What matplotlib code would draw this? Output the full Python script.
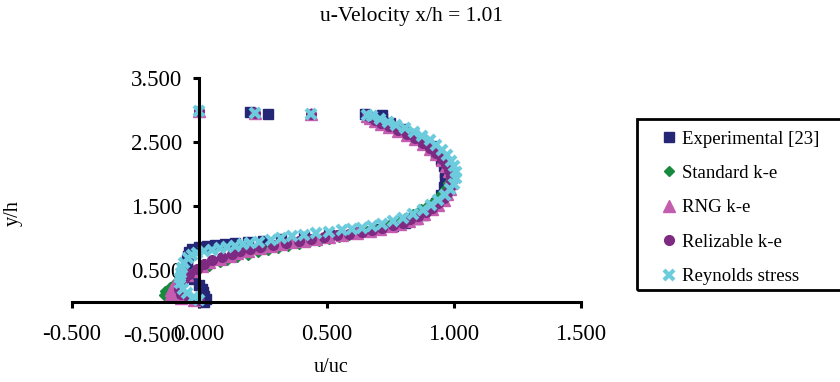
import matplotlib
matplotlib.use('Agg')
import matplotlib.pyplot as plt
from matplotlib.patches import Rectangle

plt.rcParams['font.family'] = ['Liberation Serif', 'DejaVu Serif']

# Experimental [23]
x_exp = [0.02, 0.025, 0.02, 0.015, 0.01, 0.0, -0.02, -0.04, -0.05, -0.05,
         -0.045, -0.04, -0.03, 0.0, 0.03, 0.06, 0.10, 0.14, 0.19, 0.25,
         0.32, 0.41, 0.51, 0.62, 0.70, 0.76, 0.81, 0.85, 0.88, 0.91,
         0.93, 0.95, 0.96, 0.965, 0.965, 0.96, 0.95, 0.93, 0.91, 0.88,
         0.84, 0.80, 0.75, 0.72, 0.72, 0.65, 0.27, 0.20]
y_exp = [0.00, 0.05, 0.10, 0.15, 0.20, 0.27, 0.36, 0.46, 0.56, 0.65,
         0.72, 0.78, 0.83, 0.86, 0.88, 0.89, 0.90, 0.92, 0.93, 0.96,
         0.99, 1.02, 1.05, 1.10, 1.14, 1.18, 1.23, 1.29, 1.36, 1.45,
         1.55, 1.67, 1.80, 1.92, 2.02, 2.12, 2.22, 2.33, 2.43, 2.52,
         2.62, 2.71, 2.80, 2.87, 2.92, 2.94, 2.94, 2.97]

# Standard k-e
x_ske = [-0.02, -0.08, -0.14, -0.135, -0.115, -0.09, -0.06, -0.03, 0.00, 0.04,
         0.08, 0.11, 0.15, 0.19, 0.23, 0.27, 0.31, 0.35, 0.39, 0.43,
         0.47, 0.51, 0.55, 0.59, 0.63, 0.66, 0.69, 0.72, 0.75, 0.78,
         0.81, 0.84, 0.87, 0.90, 0.925, 0.95, 0.965, 0.978, 0.985, 0.985,
         0.978, 0.965, 0.948, 0.925, 0.90, 0.875, 0.845, 0.81, 0.775, 0.74,
         0.71, 0.69, 0.66, 0.44, 0.22, 0.0]
y_ske = [0.02, 0.06, 0.11, 0.17, 0.24, 0.31, 0.38, 0.45, 0.51, 0.57,
         0.62, 0.66, 0.70, 0.74, 0.78, 0.81, 0.84, 0.87, 0.90, 0.93,
         0.96, 0.99, 1.02, 1.05, 1.08, 1.11, 1.14, 1.18, 1.22, 1.27,
         1.32, 1.38, 1.45, 1.52, 1.60, 1.68, 1.77, 1.86, 1.95, 2.04,
         2.13, 2.22, 2.31, 2.39, 2.47, 2.54, 2.61, 2.67, 2.73, 2.78,
         2.83, 2.87, 2.91, 2.94, 2.95, 2.98]

# RNG k-e
x_rng = [-0.02, -0.07, -0.11, -0.11, -0.10, -0.08, -0.05, -0.02, 0.01, 0.04,
         0.08, 0.12, 0.15, 0.19, 0.24, 0.28, 0.32, 0.36, 0.41, 0.46,
         0.51, 0.56, 0.62, 0.67, 0.71, 0.755, 0.79, 0.825, 0.855, 0.885,
         0.915, 0.94, 0.96, 0.975, 0.985, 0.99, 0.99, 0.983, 0.97, 0.952,
         0.93, 0.905, 0.878, 0.848, 0.815, 0.78, 0.745, 0.715, 0.69, 0.67,
         0.66, 0.44, 0.22, 0.0]
y_rng = [0.03, 0.07, 0.12, 0.19, 0.26, 0.34, 0.42, 0.49, 0.56, 0.62,
         0.67, 0.72, 0.76, 0.80, 0.84, 0.87, 0.90, 0.93, 0.96, 0.99,
         1.02, 1.05, 1.08, 1.11, 1.14, 1.18, 1.22, 1.27, 1.32, 1.38,
         1.45, 1.52, 1.60, 1.68, 1.77, 1.86, 1.95, 2.04, 2.13, 2.22,
         2.31, 2.39, 2.47, 2.54, 2.61, 2.67, 2.73, 2.78, 2.83, 2.87,
         2.91, 2.94, 2.95, 2.98]

# Relizable k-e
x_rlz = [0.0, -0.04, -0.07, -0.08, -0.075, -0.06, -0.04, -0.01, 0.02, 0.05,
         0.09, 0.13, 0.16, 0.20, 0.24, 0.29, 0.34, 0.39, 0.44, 0.49,
         0.54, 0.59, 0.64, 0.68, 0.72, 0.76, 0.80, 0.83, 0.86, 0.89,
         0.915, 0.94, 0.96, 0.975, 0.985, 0.99, 0.99, 0.983, 0.97, 0.952,
         0.93, 0.905, 0.878, 0.848, 0.815, 0.78, 0.745, 0.715, 0.69, 0.67,
         0.66, 0.44, 0.22, 0.0]
y_rlz = [0.03, 0.07, 0.13, 0.20, 0.28, 0.36, 0.44, 0.52, 0.59, 0.65,
         0.70, 0.75, 0.79, 0.83, 0.86, 0.89, 0.92, 0.95, 0.98, 1.01,
         1.04, 1.07, 1.10, 1.13, 1.16, 1.20, 1.24, 1.29, 1.34, 1.40,
         1.47, 1.54, 1.62, 1.70, 1.79, 1.88, 1.97, 2.06, 2.15, 2.24,
         2.33, 2.41, 2.49, 2.56, 2.63, 2.69, 2.75, 2.80, 2.85, 2.89,
         2.92, 2.94, 2.95, 2.98]

# Reynolds stress
x_rsm = [0.00, -0.02, -0.05, -0.065, -0.075, -0.075, -0.072, -0.067, -0.058, -0.045,
         -0.03, -0.01, 0.02, 0.05, 0.08, 0.11, 0.14, 0.17, 0.20, 0.235,
         0.28, 0.32, 0.365, 0.41, 0.46, 0.51, 0.56, 0.60, 0.64, 0.68,
         0.72, 0.76, 0.80, 0.84, 0.88, 0.91, 0.94, 0.965, 0.985, 1.00,
         1.008, 1.008, 1.002, 0.99, 0.975, 0.955, 0.93, 0.905, 0.875, 0.845,
         0.81, 0.775, 0.74, 0.71, 0.68, 0.66, 0.44, 0.22, 0.00]
y_rsm = [0.03, 0.08, 0.14, 0.21, 0.29, 0.37, 0.45, 0.53, 0.61, 0.68,
         0.73, 0.77, 0.80, 0.82, 0.84, 0.86, 0.88, 0.90, 0.92, 0.94,
         0.97, 1.00, 1.03, 1.05, 1.08, 1.10, 1.12, 1.14, 1.16, 1.19,
         1.22, 1.26, 1.31, 1.37, 1.44, 1.51, 1.59, 1.67, 1.76, 1.85,
         1.94, 2.03, 2.12, 2.21, 2.30, 2.38, 2.46, 2.53, 2.60, 2.66,
         2.72, 2.77, 2.82, 2.86, 2.90, 2.92, 2.94, 2.95, 2.98]

x_ticks = [-0.5, 0.0, 0.5, 1.0, 1.5]
y_ticks = [-0.5, 0.5, 1.5, 2.5, 3.5]

fig = plt.figure(figsize=(8.4, 3.82), dpi=100)
ax = fig.add_axes([72 / 840, 1 - 334 / 382, 509 / 840, 256 / 382])

ax.plot(x_exp, y_exp, 's', color='#262676', ms=7.5, mec='#262676', label='Experimental [23]')
ax.plot(x_ske, y_ske, 'D', color='#188a3e', ms=5.5, label='Standard k-e')
ax.plot(x_rng, y_rng, '^', color='#c45cb0', ms=8, label='RNG k-e')
ax.plot(x_rlz, y_rlz, 'o', color='#7e2a82', ms=7, label='Relizable k-e')
ax.plot(x_rsm, y_rsm, 'x', color='#6ccbdc', ms=7, mew=3, label='Reynolds stress')

ax.set_xlim(-0.5, 1.5)
ax.set_ylim(-0.5, 3.5)
ax.set_xticks(x_ticks)
ax.set_yticks(y_ticks)
ax.xaxis.set_major_formatter(matplotlib.ticker.FormatStrFormatter('%.3f'))
ax.yaxis.set_major_formatter(matplotlib.ticker.FormatStrFormatter('%.3f'))

for s in ['top', 'right']:
    ax.spines[s].set_visible(False)
ax.spines['left'].set_position(('data', 0))
ax.spines['bottom'].set_position(('data', 0))
ax.spines['left'].set_bounds(0, 3.5)
ax.spines['left'].set_linewidth(2.2)
ax.spines['bottom'].set_linewidth(2.2)
ax.tick_params(axis='both', direction='out', length=4, width=2.2, labelsize=16.5)
ax.tick_params(axis='x', pad=12)
ax.tick_params(axis='y', pad=8)
ax.yaxis.get_major_ticks()[0].tick1line.set_visible(False)
ax.patch.set_visible(False)

fig.text(411 / 840, 1 - 17 / 382, 'u-Velocity x/h = 1.01', ha='center', va='center', fontsize=15.5)
fig.text(331 / 840, 1 - 368 / 382, 'u/uc', ha='center', va='center', fontsize=14.5)
fig.text(13 / 840, 1 - 213 / 382, 'y/h', ha='center', va='center', rotation=90, fontsize=14.5)

# legend box
fig.patches.append(Rectangle((637 / 840, 1 - 290 / 382), 212 / 840, 171 / 382,
                             transform=fig.transFigure, fill=False, lw=2, ec='black'))
handles, labels = ax.get_legend_handles_labels()
fig.legend(handles, labels, loc='upper left', bbox_to_anchor=(654 / 840, 1 - 123 / 382),
           frameon=False, fontsize=13.5, handlelength=0.8, handletextpad=0.3,
           labelspacing=0.92, borderpad=0.4, borderaxespad=0, numpoints=1)

fig.savefig('out.png', dpi=100)
